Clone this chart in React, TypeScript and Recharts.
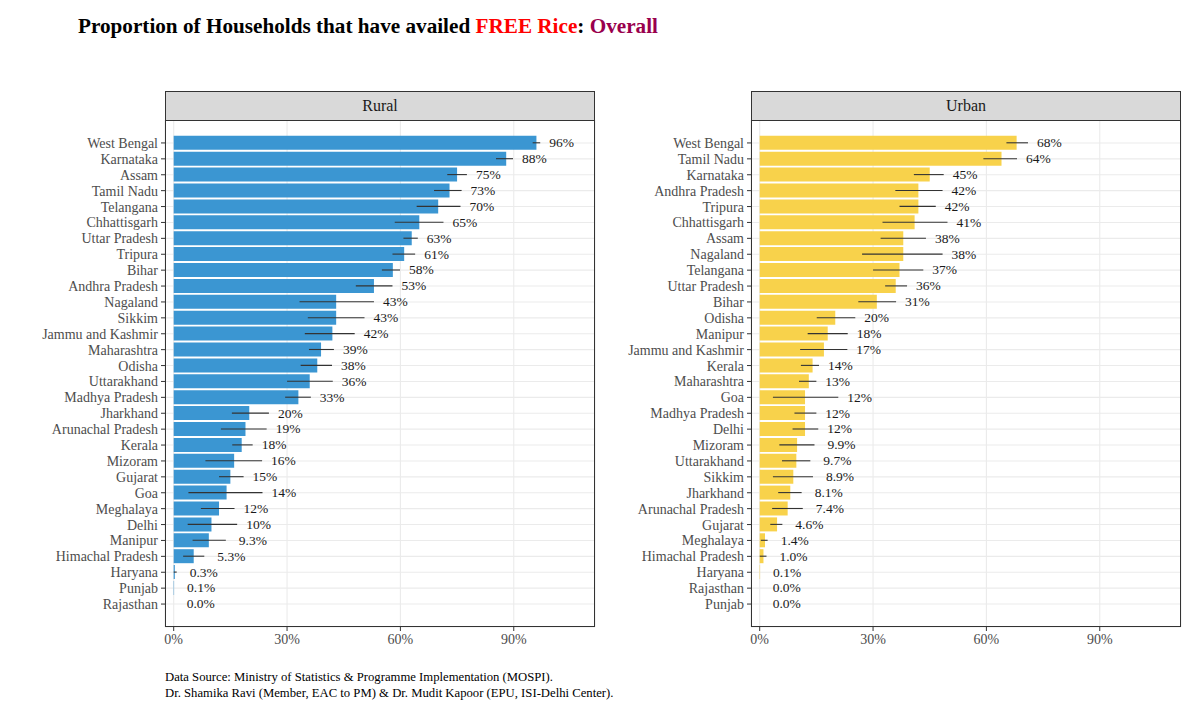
import { BarChart, Bar, XAxis, YAxis, CartesianGrid, ErrorBar, LabelList } from 'recharts';

// Rural: share of households (%) with 95% interval bounds
const ruralStates = [
  'West Bengal', 'Karnataka', 'Assam', 'Tamil Nadu', 'Telangana', 'Chhattisgarh',
  'Uttar Pradesh', 'Tripura', 'Bihar', 'Andhra Pradesh', 'Nagaland', 'Sikkim',
  'Jammu and Kashmir', 'Maharashtra', 'Odisha', 'Uttarakhand', 'Madhya Pradesh',
  'Jharkhand', 'Arunachal Pradesh', 'Kerala', 'Mizoram', 'Gujarat', 'Goa',
  'Meghalaya', 'Delhi', 'Manipur', 'Himachal Pradesh', 'Haryana', 'Punjab', 'Rajasthan',
];
const ruralShare = [96, 88, 75, 73, 70, 65, 63, 61, 58, 53, 43, 43, 42, 39, 38, 36, 33, 20, 19, 18, 16, 15, 14, 12, 10, 9.3, 5.3, 0.3, 0.1, 0.0];
const ruralLow = [95.0, 85.3, 72.4, 68.9, 64.3, 58.5, 60.8, 57.9, 55.1, 48.2, 33.3, 35.5, 34.7, 35.8, 33.6, 30.0, 29.5, 15.4, 12.5, 15.5, 8.4, 12.0, 3.9, 7.2, 3.7, 5.0, 2.5, 0.0, 0.1, 0.0];
const ruralHigh = [97.0, 89.8, 77.6, 76.2, 75.9, 71.4, 64.6, 63.9, 59.9, 57.9, 53.0, 50.5, 47.9, 42.4, 41.9, 42.1, 36.3, 25.2, 24.6, 20.9, 23.4, 18.5, 23.5, 16.1, 16.8, 13.8, 8.1, 0.8, 0.1, 0.0];

// Urban
const urbanStates = [
  'West Bengal', 'Tamil Nadu', 'Karnataka', 'Andhra Pradesh', 'Tripura', 'Chhattisgarh',
  'Assam', 'Nagaland', 'Telangana', 'Uttar Pradesh', 'Bihar', 'Odisha', 'Manipur',
  'Jammu and Kashmir', 'Kerala', 'Maharashtra', 'Goa', 'Madhya Pradesh', 'Delhi',
  'Mizoram', 'Uttarakhand', 'Sikkim', 'Jharkhand', 'Arunachal Pradesh', 'Gujarat',
  'Meghalaya', 'Himachal Pradesh', 'Haryana', 'Rajasthan', 'Punjab',
];
const urbanShare = [68, 64, 45, 42, 42, 41, 38, 38, 37, 36, 31, 20, 18, 17, 14, 13, 12, 12, 12, 9.9, 9.7, 8.9, 8.1, 7.4, 4.6, 1.4, 1.0, 0.1, 0.0, 0.0];
const urbanLow = [65.3, 59.2, 40.8, 35.9, 37.0, 32.5, 32.0, 27.1, 30.0, 33.2, 26.1, 15.1, 12.7, 10.7, 10.9, 10.4, 3.5, 9.2, 8.7, 5.2, 5.9, 3.5, 4.9, 3.3, 2.8, 0.3, 0.0, 0.1, 0.0, 0.0];
const urbanHigh = [71.0, 68.1, 48.7, 48.4, 46.6, 49.7, 44.0, 48.4, 43.3, 39.0, 36.1, 25.3, 23.3, 23.2, 15.7, 15.0, 20.8, 15.0, 15.5, 14.5, 13.4, 14.1, 11.1, 11.4, 6.0, 2.1, 1.8, 0.1, 0.0, 0.0];

const xTicks = [0, 30, 60, 90];
const xDomain = [-2.3, 111.5];

const SERIF = '"Liberation Serif", "Times New Roman", serif';

function fmtPct(v: number) {
  return v >= 9.95 ? `${Math.round(v)}%` : `${v.toFixed(1)}%`;
}

function buildRows(states: string[], share: number[], low: number[], high: number[]) {
  return states.map((state, i) => ({
    state,
    share: share[i],
    err: [share[i] - low[i], high[i] - share[i]],
    // invisible spacer up to the interval's upper end; kept non-zero so its label is drawn
    gap: Math.max(high[i] - share[i], 0.01),
    label: fmtPct(share[i]),
  }));
}

// label sits just past the upper end of the interval
function ValueLabel(props: any) {
  const { x, y, width, height, value } = props;
  const txt = String(value);
  const shift = txt.includes('.') ? 13 : 9;
  return (
    <text
      x={Number(x) + Number(width) + shift}
      y={Number(y) + Number(height) / 2}
      dominantBaseline="central"
      fontFamily={SERIF}
      fontSize={13.5}
      fill="#1a1a1a"
    >
      {txt}
    </text>
  );
}

const PLOT_TOP = 120;
const PLOT_H = 507;
const PLOT_W = 430;

function Panel({ title, rows, color, left, axisW }: { title: string; rows: any[]; color: string; left: number; axisW: number }) {
  const chartW = 600;
  const plotLeft = left + axisW;
  return (
    <>
      <div
        style={{
          position: 'absolute', left: plotLeft, top: 91, width: PLOT_W, height: PLOT_TOP - 91 + 1,
          boxSizing: 'border-box', background: '#d9d9d9', border: '1px solid #333',
          display: 'flex', alignItems: 'center', justifyContent: 'center',
          fontFamily: SERIF, fontSize: 16, color: '#1a1a1a',
        }}
      >
        {title}
      </div>
      <div style={{ position: 'absolute', left, top: PLOT_TOP }}>
        <BarChart
          width={chartW}
          height={PLOT_H + 33}
          data={rows}
          layout="vertical"
          margin={{ top: 0, right: chartW - axisW - PLOT_W, bottom: 0, left: 0 }}
          barCategoryGap="5%"
        >
          <CartesianGrid stroke="#ebebeb" strokeWidth={1.1} />
          <XAxis
            type="number"
            domain={xDomain}
            ticks={xTicks}
            allowDataOverflow
            tickFormatter={(v) => `${v}%`}
            height={33}
            tickSize={4}
            tickMargin={3}
            axisLine={false}
            tickLine={{ stroke: '#333' }}
            tick={{ fill: '#4d4d4d', fontFamily: SERIF, fontSize: 14 }}
          />
          <YAxis
            type="category"
            dataKey="state"
            width={axisW}
            interval={0}
            padding={{ top: 15, bottom: 15 }}
            tickSize={4}
            tickMargin={3}
            axisLine={false}
            tickLine={{ stroke: '#333' }}
            tick={{ fill: '#4d4d4d', fontFamily: SERIF, fontSize: 14 }}
          />
          <Bar dataKey="share" stackId="s" fill={color} isAnimationActive={false}>
            <ErrorBar dataKey="err" direction="x" width={0} stroke="#333" strokeWidth={1.1} />
          </Bar>
          <Bar dataKey="gap" stackId="s" fill="none" isAnimationActive={false}>
            <LabelList dataKey="label" content={ValueLabel} />
          </Bar>
        </BarChart>
      </div>
      <div
        style={{
          position: 'absolute', left: plotLeft, top: PLOT_TOP, width: PLOT_W, height: PLOT_H,
          boxSizing: 'border-box', border: '1px solid #333', pointerEvents: 'none',
        }}
      />
    </>
  );
}

export default function App() {
  const rural = buildRows(ruralStates, ruralShare, ruralLow, ruralHigh);
  const urban = buildRows(urbanStates, urbanShare, urbanLow, urbanHigh);
  return (
    <div style={{ position: 'absolute', left: 0, top: 0, width: 1200, height: 720, background: '#fff', fontFamily: SERIF }}>
      <div style={{ position: 'absolute', left: 78, top: 14, fontSize: 21.2, fontWeight: 'bold', color: '#000', whiteSpace: 'nowrap' }}>
        Proportion of Households that have availed <span style={{ color: '#ff0000' }}>FREE Rice</span>: <span style={{ color: '#99004d' }}>Overall</span>
      </div>
      <Panel title="Rural" rows={rural} color="#3b96d2" left={0} axisW={165} />
      <Panel title="Urban" rows={urban} color="#f8d24b" left={600} axisW={151} />
      <div style={{ position: 'absolute', left: 165, top: 670, fontSize: 12.7, lineHeight: '15.5px', color: '#000' }}>
        <div>Data Source: Ministry of Statistics &amp; Programme Implementation (MOSPI).</div>
        <div>Dr. Shamika Ravi (Member, EAC to PM) &amp; Dr. Mudit Kapoor (EPU, ISI-Delhi Center).</div>
      </div>
    </div>
  );
}
